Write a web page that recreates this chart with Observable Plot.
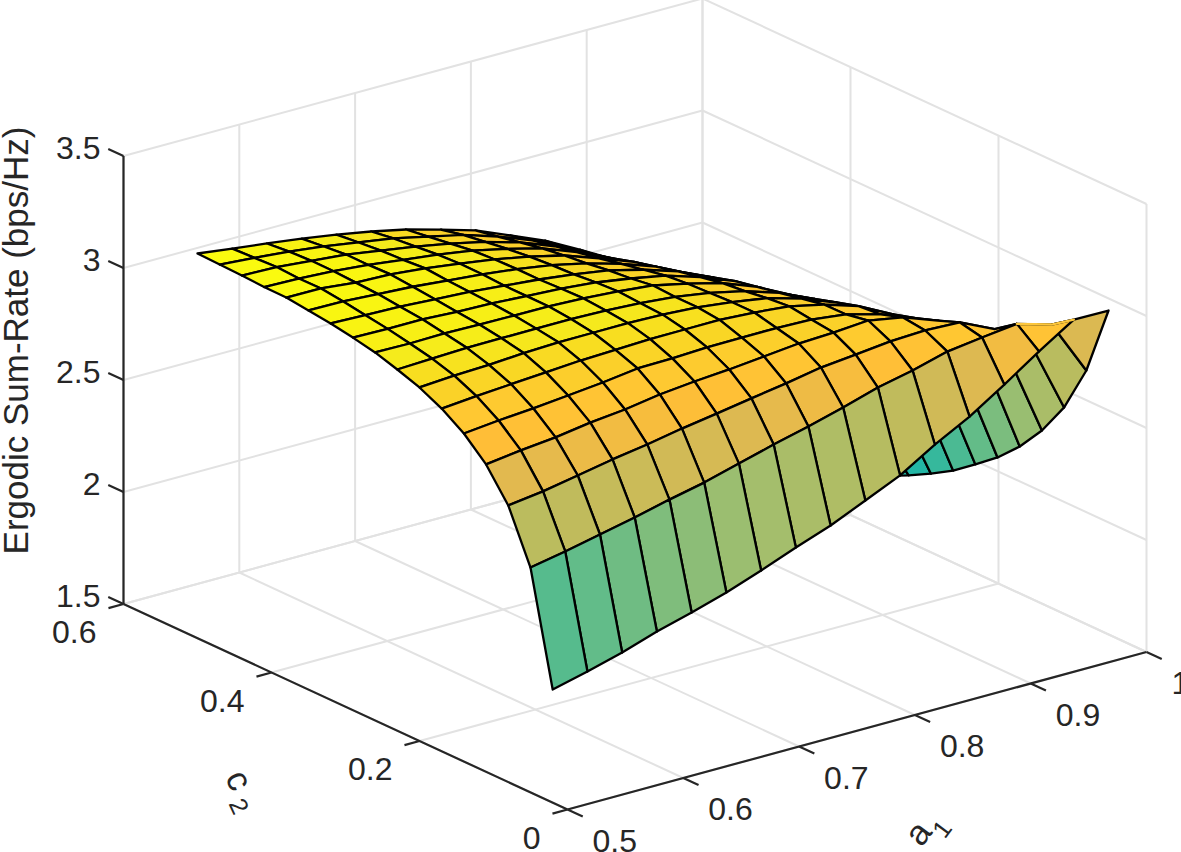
<!DOCTYPE html>
<html>
<head>
<meta charset="utf-8">
<script src="https://cdn.jsdelivr.net/npm/d3@7"></script>
<script src="https://cdn.jsdelivr.net/npm/@observablehq/plot@0.6"></script>
<style>html,body{margin:0;padding:0;background:#fff}svg{display:block}</style>
</head>
<body>
<div id="chart"></div>
<script>
const a1Values = [0.5,0.53,0.56,0.59,0.62,0.65,0.68,0.71,0.74,0.77,0.8,0.83,0.86,0.89,0.92,0.95,0.98];
const c2Values = [0.02,0.05,0.08,0.11,0.14,0.17,0.2,0.23,0.26,0.29,0.32,0.35,0.38,0.41,0.44,0.47,0.5];
const rate_c02 = [2.014,2.051,2.093,2.144,2.186,2.233,2.288,2.348,2.403,2.472,2.541,2.636,2.718,2.818,2.923,3.022,3.02];
const rate_c05 = [2.512,2.541,2.574,2.607,2.644,2.677,2.719,2.761,2.799,2.841,2.887,2.92,2.962,2.982,3.0,2.954,2.706];
const rate_c08 = [2.743,2.763,2.791,2.82,2.844,2.872,2.896,2.921,2.945,2.973,2.988,3.004,3.01,3.003,2.93,2.832,2.495];
const rate_c11 = [2.88,2.9,2.915,2.938,2.954,2.978,2.993,3.004,3.019,3.034,3.04,3.051,3.022,2.965,2.89,2.73,2.346];
const rate_c14 = [2.972,2.987,2.998,3.013,3.028,3.048,3.05,3.056,3.057,3.057,3.052,3.032,2.989,2.93,2.82,2.646,2.228];
const rate_c17 = [3.037,3.05,3.06,3.07,3.08,3.085,3.09,3.09,3.09,3.08,3.065,3.03,2.98,2.9,2.77,2.552,2.133];
const rate_c20 = [3.085,3.095,3.1,3.11,3.115,3.115,3.115,3.11,3.1,3.08,3.055,3.01,2.95,2.86,2.72,2.47,2.056];
const rate_c23 = [3.119,3.125,3.13,3.13,3.13,3.13,3.125,3.115,3.1,3.075,3.04,2.99,2.92,2.82,2.67,2.39,1.982];
const rate_c26 = [3.149,3.146,3.148,3.145,3.142,3.14,3.133,3.121,3.105,3.07,3.03,2.97,2.89,2.78,2.62,2.28,1.922];
const rate_c29 = [3.169,3.165,3.165,3.155,3.15,3.14,3.13,3.115,3.09,3.06,3.01,2.95,2.86,2.74,2.56,2.14,1.868];
const rate_c32 = [3.186,3.18,3.175,3.165,3.155,3.14,3.125,3.105,3.08,3.04,2.99,2.92,2.82,2.69,2.5,2.05,1.82];
const rate_c35 = [3.198,3.195,3.185,3.175,3.16,3.145,3.125,3.1,3.065,3.02,2.965,2.89,2.78,2.64,2.44,1.98,1.78];
const rate_c38 = [3.209,3.207,3.19,3.184,3.168,3.146,3.122,3.092,3.054,2.998,2.94,2.86,2.75,2.6,2.38,1.92,1.75];
const rate_c41 = [3.21,3.205,3.195,3.18,3.16,3.14,3.115,3.08,3.04,2.98,2.91,2.83,2.72,2.56,2.33,1.88,1.72];
const rate_c44 = [3.215,3.21,3.195,3.18,3.155,3.13,3.1,3.065,3.02,2.96,2.885,2.8,2.69,2.53,2.29,1.85,1.7];
const rate_c47 = [3.218,3.205,3.19,3.17,3.145,3.12,3.085,3.05,3.0,2.94,2.865,2.78,2.66,2.5,2.25,1.82,1.68];
const rate_c50 = [3.221,3.2,3.18,3.159,3.134,3.105,3.071,3.028,2.981,2.916,2.85,2.767,2.68,2.59,2.514,1.8,1.66];
const rateRows = [rate_c02,rate_c05,rate_c08,rate_c11,rate_c14,rate_c17,rate_c20,rate_c23,rate_c26,rate_c29,rate_c32,rate_c35,rate_c38,rate_c41,rate_c44,rate_c47,rate_c50];

const a1Ticks = [0.5,0.6,0.7,0.8,0.9,1];
const c2Ticks = [0,0.2,0.4,0.6];
const rateTicks = [1.5,2,2.5,3,3.5];
const colorStops = [1.87,2.01,2.25,2.5,2.74,2.88,2.97,3.04,3.085,3.12,3.15,3.2];
const colorRange = ["#23b6a5","#55bb8e","#a0be6e","#b9bc5f","#e1b950","#ffbe37","#ffc832","#fad228","#f8de20","#f5eb1c","#f8f014","#fafa0f"];

// Orthographic views, in the picture's units: the box and the surface on it
const A0=0.5,A1=1,C1=0.6,Z0=1.5;
const project = (y0,ya,yc) => (a,c,z) => {
  const A=(a-A0)/(A1-A0), C=c/C1;
  return {x:567+579*A-444*C, y:y0-ya*A-yc*C-(z-Z0)*224};
};
const view = project(809,157.5,205.5);
const surfaceView = project(811,160,207);
const seg = (p,q) => { const s=view(...p), e=view(...q); return {x1:s.x,y1:s.y,x2:e.x,y2:e.y}; };

// Surface cells, far to near
const cells = [];
for (let i=a1Values.length-2;i>=0;i--) for (let j=c2Values.length-2;j>=0;j--) {
  const corners=[[i,j],[i+1,j],[i+1,j+1],[i,j+1],[i,j]];
  const v=d3.min(corners,([m,n])=>rateRows[n][m]);
  for (const [m,n] of corners) {
    const p=surfaceView(a1Values[m],c2Values[n],rateRows[n][m]);
    cells.push({id:i+"-"+j,x:p.x,y:p.y,v});
  }
}
// The stretch of the far rim where the reference shows no dark line
const rim=[[14,1],[15,1],[15,0]].map(([m,n])=>surfaceView(a1Values[m],c2Values[n],rateRows[n][m]));

const grid=[];
for (const a of a1Ticks){ grid.push(seg([a,0,1.5],[a,0.6,1.5])); grid.push(seg([a,0.6,1.5],[a,0.6,3.5])); }
for (const c of c2Ticks){ grid.push(seg([0.5,c,1.5],[1,c,1.5])); grid.push(seg([1,c,1.5],[1,c,3.5])); }
for (const z of rateTicks){ grid.push(seg([0.5,0.6,z],[1,0.6,z])); grid.push(seg([1,0.6,z],[1,0,z])); }

const axes=[seg([0.5,0.6,1.5],[0.5,0.6,3.5]),seg([0.5,0.6,1.5],[0.5,0,1.5]),seg([0.5,0,1.5],[1,0,1.5])];
for (const z of rateTicks) axes.push(seg([0.5,0.6,z],[0.5,0.6206,z]));
for (const c of c2Ticks) axes.push(seg([0.5,c,1.5],[0.487,c,1.5]));
for (const a of a1Ticks) axes.push(seg([a,0,1.5],[a,-0.0206,1.5]));

const font="Liberation Sans, Arial, Helvetica, sans-serif", ink="#262626", fs=32, ls=35;
const label=(vals,fn)=>vals.map(t=>({t,...view(...fn(t))}));
const free=(s,x,y,rotate,fontSize)=>Plot.text([s],{frameAnchor:"top-left",dx:x,dy:y,text:d=>d,rotate,fontSize,fill:ink,textAnchor:"middle",lineAnchor:"middle"});

const chart=Plot.plot({
  width:1181,height:852,margin:0,
  style:{background:"#fff",fontFamily:font},
  x:{domain:[0,1181],range:[0,1181],axis:null},
  y:{domain:[0,852],range:[0,852],axis:null},
  color:{type:"linear",domain:colorStops,range:colorRange,clamp:true},
  marks:[
    Plot.link(grid,{x1:"x1",y1:"y1",x2:"x2",y2:"y2",stroke:"#e2e2e2",strokeWidth:2}),
    Plot.link(axes,{x1:"x1",y1:"y1",x2:"x2",y2:"y2",stroke:ink,strokeWidth:2.2}),
    Plot.line(cells,{x:"x",y:"y",z:"id",fill:"v",stroke:"#000",strokeWidth:2.3,strokeLinejoin:"round"}),
    Plot.line(rim,{x:"x",y:"y",stroke:"#fcc63c",strokeWidth:2.4}),
    Plot.text(label(rateTicks,z=>[0.5,0.6,z]),{x:"x",y:"y",text:d=>String(d.t),textAnchor:"end",dx:-23,dy:-7,fontSize:fs,fill:ink}),
    Plot.text(label(c2Ticks,c=>[0.5,c,1.5]),{x:"x",y:"y",text:d=>String(d.t),textAnchor:"end",dx:-27,dy:29,fontSize:fs,fill:ink}),
    Plot.text(label(a1Ticks,a=>[a,0,1.5]),{x:"x",y:"y",text:d=>String(d.t),textAnchor:"start",dx:25,dy:32,fontSize:fs,fill:ink}),
    free("Ergodic Sum-Rate (bps/Hz)",16,340,-90,ls),
    free("c",238,780,65,ls),
    free("2",238,806,65,25),
    free("a",918,833,-53,ls),
    free("1",942,829,-53,25)
  ]
});
document.getElementById("chart").append(chart);
</script>
</body>
</html>
